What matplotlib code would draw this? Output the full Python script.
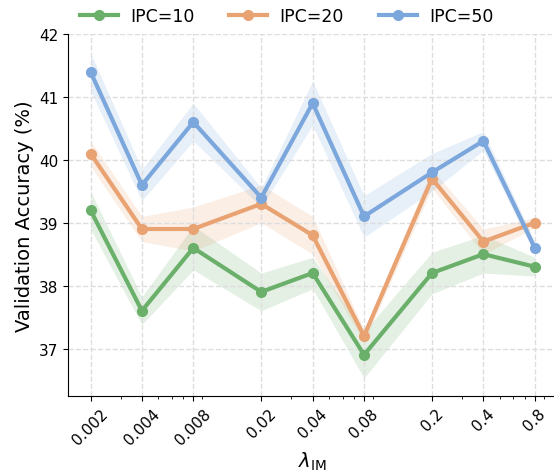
import numpy as np
import matplotlib.pyplot as plt

lam = [0.002, 0.004, 0.008, 0.02, 0.04, 0.08, 0.2, 0.4, 0.8]
tick_labels = ['0.002', '0.004', '0.008', '0.02', '0.04', '0.08', '0.2', '0.4', '0.8']

ipc10 = [39.2, 37.6, 38.6, 37.9, 38.2, 36.9, 38.2, 38.5, 38.3]
ipc10_std = [0.3, 0.22, 0.35, 0.3, 0.25, 0.37, 0.33, 0.3, 0.15]
ipc20 = [40.1, 38.9, 38.9, 39.3, 38.8, 37.2, 39.7, 38.7, 39.0]
ipc20_std = [0.2, 0.2, 0.35, 0.3, 0.3, 0.1, 0.15, 0.2, 0.08]
ipc50 = [41.4, 39.6, 40.6, 39.4, 40.9, 39.1, 39.8, 40.3, 38.6]
ipc50_std = [0.3, 0.25, 0.3, 0.15, 0.35, 0.33, 0.3, 0.15, 0.1]

colors = ['#6aaf6a', '#e9a272', '#7ca7dc']
labels = ['IPC=10', 'IPC=20', 'IPC=50']

fig = plt.figure(figsize=(5.54, 4.77), dpi=100)
ax = fig.add_axes([68.3/554, (477-396.7)/477, (557-68.3)/554, (396.7-35)/477])

for y, s, c, lab in zip([ipc10, ipc20, ipc50], [ipc10_std, ipc20_std, ipc50_std], colors, labels):
    y = np.array(y); s = np.array(s)
    ax.fill_between(lam, y - s, y + s, color=c, alpha=0.18, linewidth=0)
    ax.plot(lam, y, '-o', color=c, lw=3, ms=7, label=lab)

ax.set_xscale('log')
ax.set_xticks(lam)
ax.set_xticklabels(tick_labels, rotation=45, fontsize=11)
ax.set_ylim(36.25, 42)
ax.set_yticks([37, 38, 39, 40, 41, 42])
ax.tick_params(axis='y', labelsize=11)
ax.grid(True, which='major', ls='--', color='#dddddd', lw=1)
ax.spines['top'].set_visible(False)
ax.spines['right'].set_visible(False)
ax.set_xlabel(r'$\lambda_{\mathrm{IM}}$', fontsize=14, labelpad=2)
ax.set_ylabel('Validation Accuracy (%)', fontsize=14)

fig.legend(loc='upper center', bbox_to_anchor=(0.517, 1.015), ncol=3, frameon=False,
           fontsize=12.5, columnspacing=2.0, handlelength=2.2, handletextpad=0.7)

fig.savefig('out.png', dpi=100)
